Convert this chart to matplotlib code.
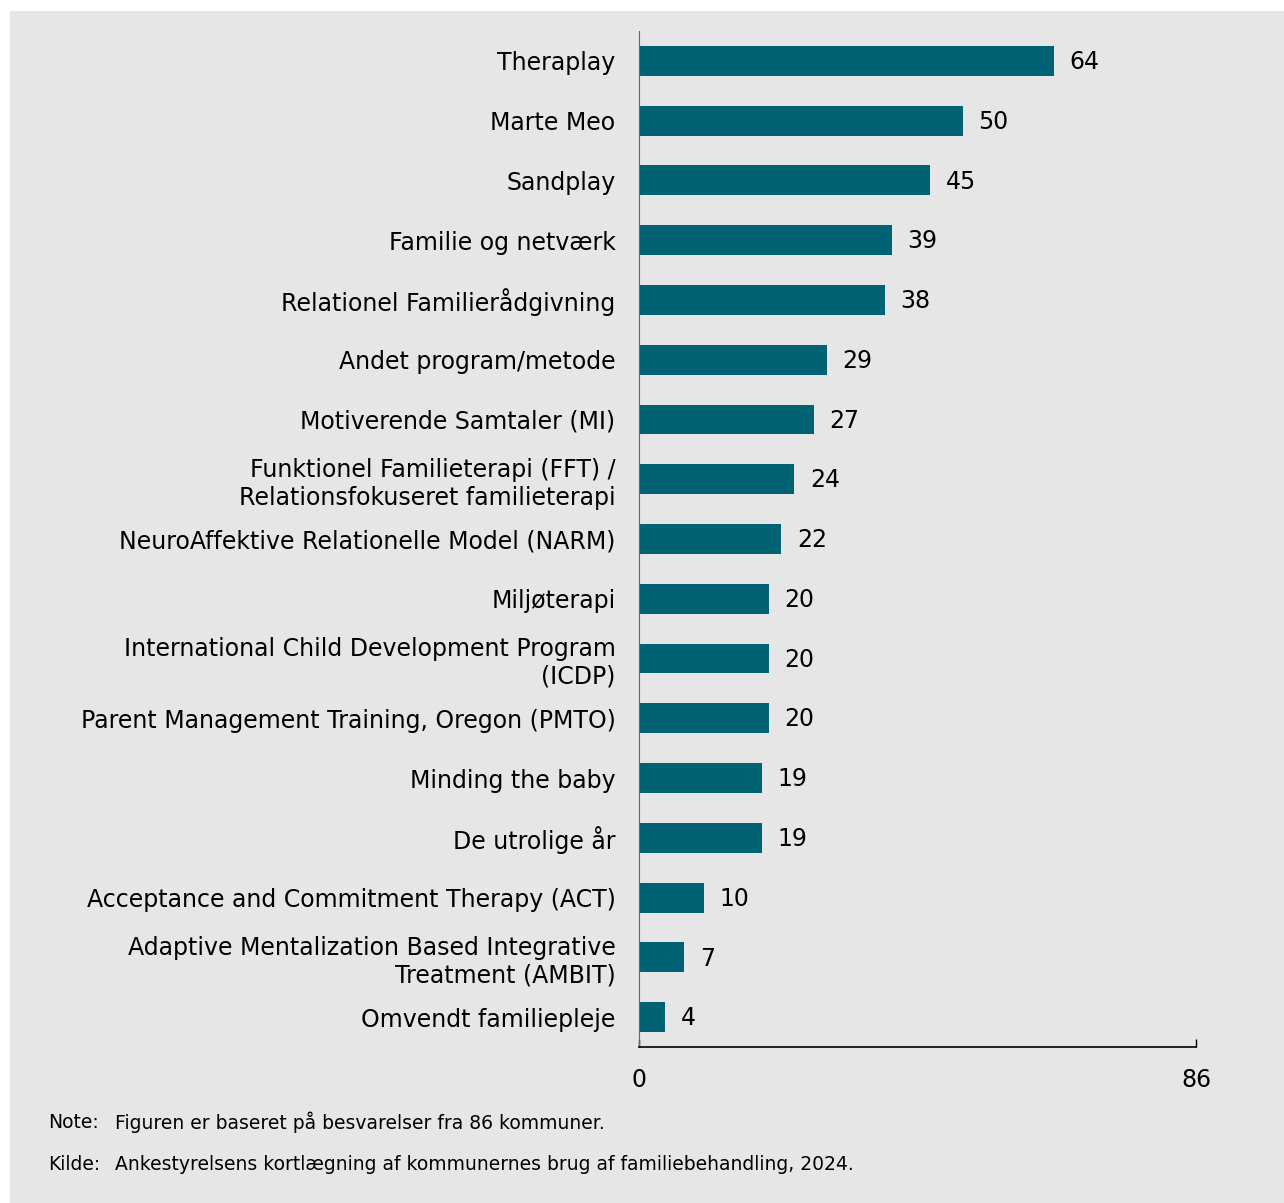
import matplotlib.pyplot as plt
from matplotlib.patches import Rectangle

# Data
labels = [
    "Theraplay",
    "Marte Meo",
    "Sandplay",
    "Familie og netværk",
    "Relationel Familierådgivning",
    "Andet program/metode",
    "Motiverende Samtaler (MI)",
    "Funktionel Familieterapi (FFT) /\nRelationsfokuseret familieterapi",
    "NeuroAffektive Relationelle Model (NARM)",
    "Miljøterapi",
    "International Child Development Program\n(ICDP)",
    "Parent Management Training, Oregon (PMTO)",
    "Minding the baby",
    "De utrolige år",
    "Acceptance and Commitment Therapy (ACT)",
    "Adaptive Mentalization Based Integrative\nTreatment (AMBIT)",
    "Omvendt familiepleje",
]
values = [64, 50, 45, 39, 38, 29, 27, 24, 22, 20, 20, 20, 19, 19, 10, 7, 4]
xmax = 86

bg = "#e6e6e6"
bar_col = "#006272"
W, H = 1284, 1203
fs = 17

plt.rcParams["font.family"] = ["DejaVu Sans"]

fig = plt.figure(figsize=(W / 100, H / 100), dpi=100, facecolor="white")
fig.patches.append(Rectangle((10 / W, 0), 1 - 10 / W, 1 - 11 / H,
                             transform=fig.transFigure, facecolor=bg,
                             edgecolor="none", zorder=-10))

ax = fig.add_axes([639 / W, 1 - 1047 / H, (1196 - 639) / W, (1047 - 31) / H])
ax.set_facecolor(bg)

n = len(labels)
ypos = list(range(n - 1, -1, -1))
ax.barh(ypos, values, height=0.5, color=bar_col)
for y, v in zip(ypos, values):
    ax.text(v + 2.4, y - 0.02, str(v), va="center", ha="left", fontsize=fs, color="black")

ax.set_xlim(0, xmax)
ax.set_ylim(-0.5, n - 0.5)
ax.set_yticks(ypos)
ax.set_yticklabels(labels, fontsize=fs, linespacing=1.2)
ax.tick_params(axis="y", length=0, pad=17)
ax.set_xticks([0, xmax])
ax.set_xticklabels(["0", str(xmax)], fontsize=fs)
ax.tick_params(axis="x", direction="in", length=6, width=1, pad=15)

for s in ["top", "right"]:
    ax.spines[s].set_visible(False)
ax.spines["left"].set_color("#666666")
ax.spines["bottom"].set_color("black")
ax.spines["bottom"].set_linewidth(1.2)

nfs = 13.5
fig.text(48 / W, 1 - 1122 / H, "Note:", fontsize=nfs, va="center")
fig.text(115 / W, 1 - 1122 / H, "Figuren er baseret på besvarelser fra 86 kommuner.",
         fontsize=nfs, va="center")
fig.text(48 / W, 1 - 1164 / H, "Kilde:", fontsize=nfs, va="center")
fig.text(115 / W, 1 - 1164 / H,
         "Ankestyrelsens kortlægning af kommunernes brug af familiebehandling, 2024.",
         fontsize=nfs, va="center")

fig.savefig("out.png", dpi=100, facecolor="white")
